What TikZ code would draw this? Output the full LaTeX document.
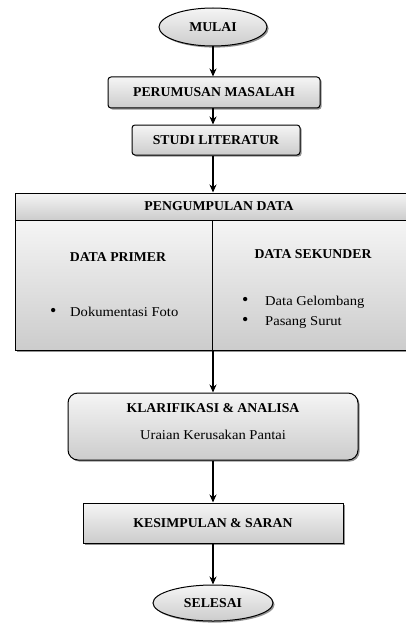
\documentclass[tikz,border=0pt]{standalone}
\usepackage{fontspec}
\setmainfont{Liberation Serif}
\usetikzlibrary{shapes.geometric,shadows,arrows.meta}
\newcommand{\wid}[1]{\scalebox{1.02}[1]{#1}}
\newcommand{\wir}[1]{\scalebox{1.08}[1]{#1}}
\newcommand{\blt}{{\fontsize{18}{15}\selectfont\textbullet}}
\begin{document}
\begin{tikzpicture}[x=1pt,y=1pt,
 box/.style={draw=black, line width=1pt, top color=gray!8, bottom color=gray!40,
   drop shadow={shadow xshift=1.6pt,shadow yshift=-1.6pt,fill=gray!85,opacity=1},
   font=\fontsize{13.5}{15}\selectfont\bfseries, inner sep=0pt},
 oval/.style={box, ellipse},
 arr/.style={-{Stealth[length=8pt,width=7pt]}, line width=1.7pt},
 btxt/.style={font=\fontsize{13.5}{15}\selectfont\bfseries, inner sep=0pt},
 txt/.style={font=\fontsize{13.5}{15}\selectfont, inner sep=0pt, anchor=west}]
\useasboundingbox (0,0) rectangle (405,-623);
\node[oval, minimum width=108, minimum height=38] (mulai) at (213,-27) {\wid{MULAI}};
\node[box, rounded corners=3pt, minimum width=212, minimum height=31] (rumus) at (214,-92.5) {\wid{PERUMUSAN MASALAH}};
\node[box, rounded corners=3pt, minimum width=168, minimum height=30] (studi) at (216,-140) {\wid{STUDI LITERATUR}};
\node[box, minimum width=408, minimum height=27] (peng) at (219,-206.5) {\wid{PENGUMPULAN DATA}};
\node[box, minimum width=197, minimum height=130] (primer) at (113.5,-285) {};
\node[box, minimum width=211, minimum height=130] (sekunder) at (317.5,-285) {};
\node[btxt] (dp) at (118,-257) {\wid{DATA PRIMER}};
\node[txt] (dok) at (50,-312) {\makebox[20pt][l]{\blt}\wir{Dokumentasi Foto}};
\node[btxt] (ds) at (313,-254) {\wid{DATA SEKUNDER}};
\node[txt] (gel) at (242,-302) {\makebox[23pt][l]{\blt}\wir{Data Gelombang}};
\node[txt] (sur) at (242,-322) {\makebox[23pt][l]{\blt}\wir{Pasang Surut}};
\node[box, rounded corners=10pt, minimum width=290, minimum height=67] (klar) at (213,-426.5) {};
\node[btxt] (klart) at (213,-408) {\wid{KLARIFIKASI \& ANALISA}};
\node[txt, anchor=center] (urai) at (213,-435) {\wir{Uraian Kerusakan Pantai}};
\node[box, minimum width=260, minimum height=40] (kes) at (213,-523) {\wid{KESIMPULAN \& SARAN}};
\node[oval, minimum width=120, minimum height=36] (selesai) at (213,-603) {\wid{SELESAI}};
\coordinate (pb) at (213,-350);
\draw[arr] (mulai.south) -- (mulai.south |- rumus.north);
\draw[arr] (mulai.south |- rumus.south) -- (mulai.south |- studi.north);
\draw[arr] (mulai.south |- studi.south) -- (mulai.south |- peng.north);
\draw[arr] (pb) -- (pb |- klar.north);
\draw[arr] (klar.south) -- (kes.north);
\draw[arr] (kes.south) -- (selesai.north);
\end{tikzpicture}
\end{document}
